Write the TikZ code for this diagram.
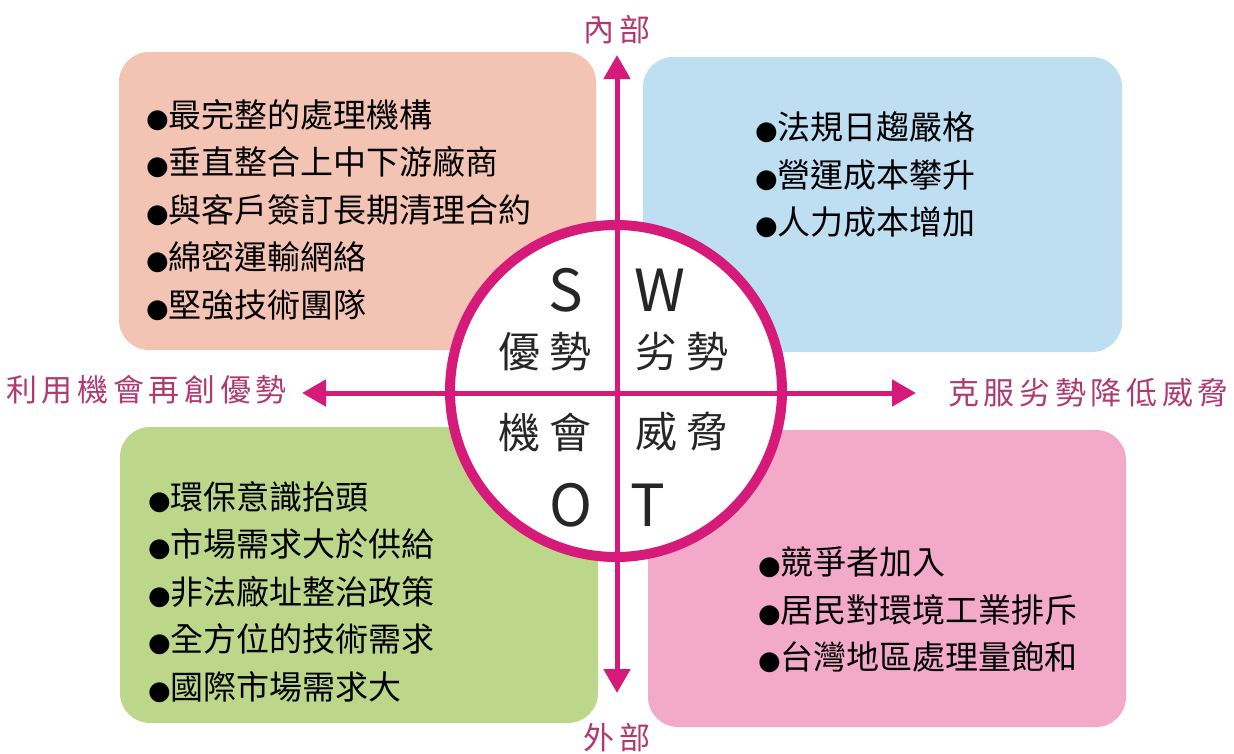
\documentclass[tikz,border=0pt]{standalone}
\usepackage{fontspec}
\usetikzlibrary{arrows.meta}
\newfontfamily\cjk{Noto Sans CJK TC}
\newfontfamily\cjkwide[LetterSpace=15]{Noto Sans CJK TC}
\newfontfamily\dejavu{DejaVu Sans}
\newcommand{\bul}{{\dejavu\fontsize{26}{26}\selectfont ●}}
\definecolor{salmon}{RGB}{243,196,180}
\definecolor{skyb}{RGB}{190,222,242}
\definecolor{leaf}{RGB}{188,214,138}
\definecolor{pinkb}{RGB}{242,170,200}
\definecolor{axis}{RGB}{214,26,122}
\definecolor{lab}{RGB}{176,58,112}
\tikzset{
  box/.style={rounded corners=30pt, draw=none},
  items/.style={anchor=west, inner sep=0pt, align=left, text=black,
    font=\cjk\fontsize{33}{47.5}\selectfont},
  quad/.style={inner sep=0pt, text=black!85, font=\cjk\fontsize{42}{42}\selectfont},
  letter/.style={inner sep=0pt, text=black!85, font=\cjk\fontsize{58}{58}\selectfont},
  side/.style={inner sep=0pt, text=lab, font=\cjkwide\fontsize{31}{31}\selectfont},
  axisline/.style={draw=axis, line width=5pt},
  tip/.style={-{Triangle[width=26pt,length=24pt]}}
}
\begin{document}
\begin{tikzpicture}[x=1pt,y=-1pt]
\useasboundingbox (0,0) rectangle (1234,753);
% boxes
\fill[box,salmon] (119,52) rectangle (596,350);
\fill[box,skyb] (643,57) rectangle (1122,352);
\fill[box,leaf] (120,427) rectangle (598,723);
\fill[box,pinkb] (648,430) rectangle (1126,727);
% circle fill
\fill[white] (616,391) circle (166);
% axes
\coordinate (c) at (617,393);
\coordinate (top) at (617,55);
\coordinate (bot) at (617,693);
\coordinate (lft) at (302,393);
\coordinate (rgt) at (916,393);
\draw[axisline,tip] (c) -- (top);
\draw[axisline,tip] (c) -- (bot);
\draw[axisline,tip] (c) -- (lft);
\draw[axisline,tip] (c) -- (rgt);
% circle
\node[draw=axis, line width=10pt, circle, minimum size=332pt, inner sep=0pt] (circ) at (616,391) {};
% circle texts
\node[letter] (S) at (566,290) {S};
\node[letter] (W) at (660,290) {W};
\node[quad] (s2) at (545,352) {優\hspace{9pt}勢};
\node[quad] (w2) at (682,352) {劣\hspace{9pt}勢};
\node[quad] (o2) at (545,432) {機\hspace{9pt}會};
\node[quad] (t2) at (682,432) {威\hspace{9pt}脅};
\node[letter] (O) at (571,505) {O};
\node[letter] (T) at (648,505) {T};
% side labels
\node[side] (in) at (617,30) {內部};
\node[side] (out) at (617,738) {外部};
\node[side, anchor=west] (ll) at (6,390) {利用機會再創優勢};
\node[side, anchor=west] (rl) at (948,393) {克服劣勢降低威脅};
% items
\node[items] (sl) at (146,210) {\bul 最完整的處理機構\\ \bul 垂直整合上中下游廠商\\ \bul 與客戶簽訂長期清理合約\\ \bul 綿密運輸網絡\\ \bul 堅強技術團隊};
\node[items] (wl) at (755,175) {\bul 法規日趨嚴格\\ \bul 營運成本攀升\\ \bul 人力成本增加};
\node[items] (ol) at (148,592) {\bul 環保意識抬頭\\ \bul 市場需求大於供給\\ \bul 非法廠址整治政策\\ \bul 全方位的技術需求\\ \bul 國際市場需求大};
\node[items] (tl) at (758,610) {\bul 競爭者加入\\ \bul 居民對環境工業排斥\\ \bul 台灣地區處理量飽和};
\end{tikzpicture}
\end{document}
